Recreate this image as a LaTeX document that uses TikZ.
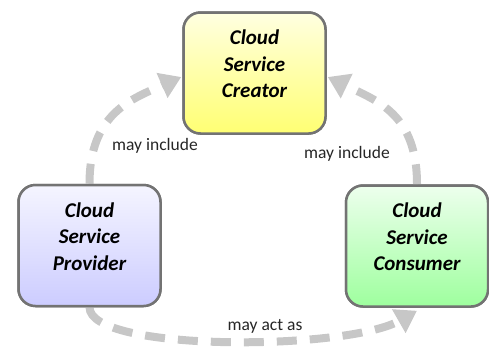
\documentclass[tikz,border=0pt]{standalone}
\usepackage{fontspec}
\setmainfont{Carlito}
\usetikzlibrary{arrows.meta,calc}
\begin{document}
\begin{tikzpicture}[x=1pt,y=-1pt,
  role/.style={draw=black!55, line width=2.5pt, rounded corners=17pt,
    minimum width=142pt, minimum height=121pt, align=center, text depth=18pt,
    font=\fontsize{21}{26.5}\selectfont\bfseries\itshape, text=black},
  flow/.style={draw=black!22, line width=8pt, dash pattern=on 20pt off 13pt,
    -{Triangle[length=21pt,width=26pt]}},
  lbl/.style={font=\fontsize{17.5}{20}\selectfont, text=black!85}]
\useasboundingbox (0,0) rectangle (489,349);

% anchor nodes for the three roles (redrawn below, above the relation lines)
\node[role] (crt) at (254.5,73) {};
\node[role] (prv) at (89.5,245.5) {};
\node[role] (csm) at (417,246) {};

% relations between the roles
\draw[flow] (prv.north) .. controls +(0,-70) and +(-50,22) .. ($(crt.west)+(-1,4)$);
\draw[flow] (csm.north) .. controls +(0,-70) and +(50,24) .. ($(crt.east)+(1,4)$);
\draw[flow] (prv.south) .. controls +(0,45) and +(-70,40) .. ($(csm.south)+(0,3)$);

% the three roles
\node[role, top color=yellow!12, bottom color=yellow!55] (crtbox) at (crt) {Cloud\\Service\\Creator};
\node[role, top color=blue!4, bottom color=blue!20] (prvbox) at (prv) {Cloud\\Service\\Provider};
\node[role, top color=green!7, bottom color=green!38] (csmbox) at (csm) {Cloud\\Service\\Consumer};

\node[lbl] (l1) at (155,146) {may include};
\node[lbl] (l2) at (347,154) {may include};
\node[lbl] (l3) at (265,326) {may act as};
\end{tikzpicture}
\end{document}
